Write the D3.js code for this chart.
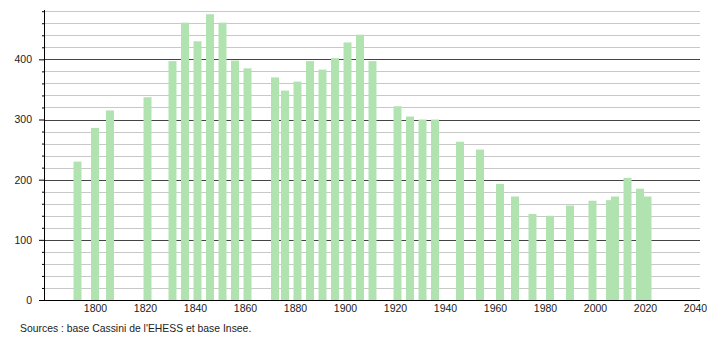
<!DOCTYPE html>
<html>
<head>
<meta charset="utf-8">
<script src="https://cdn.jsdelivr.net/npm/d3@7"></script>
<style>
  body { margin: 0; background: #fff; }
  text { font-family: "Liberation Sans", Arial, sans-serif; }
</style>
</head>
<body>
<div class="canvas"></div>
<script>
const years = [1793, 1800, 1806, 1821, 1831, 1836, 1841, 1846, 1851, 1856, 1861,
    1872, 1876, 1881, 1886, 1891, 1896, 1901, 1906, 1911,
    1921, 1926, 1931, 1936, 1946, 1954, 1962, 1968, 1975, 1982, 1990,
    1999, 2006, 2008, 2013, 2018, 2021]
const population = [230, 286, 315, 337, 397, 461, 430, 475, 461, 398, 385,
    370, 348, 363, 397, 383, 402, 428, 441, 397,
    322, 305, 300, 300, 263, 250, 193, 172, 143, 140, 157,
    165, 166, 172, 203, 185, 172]
const xTicks = [1800, 1820, 1840, 1860, 1880, 1900, 1920, 1940, 1960, 1980, 2000, 2020, 2040]
const yTicks = [0, 100, 200, 300, 400]
const source = "Sources : base Cassini de l'EHESS et base Insee."

const margin = { top: 10, right: 10, bottom: 40, left: 44 }
const width = 710, height = 340
const graphWidth = width - margin.left - margin.right
const graphHeight = height - margin.top - margin.bottom

const svg = d3.select('.canvas')
    .append('svg')
    .attr('width', width)
    .attr('height', height)

const graph = svg.append('g')
    .attr('transform', `translate(${margin.left}, ${margin.top})`)

const xScale = d3.scaleLinear().domain([1779.6, 2042]).range([0, graphWidth])
const yScale = d3.scaleLinear().domain([0, 482]).range([graphHeight, 0])

// grid: minor every 20, major every 100
const minor = d3.range(20, 481, 20).filter(v => v % 100 !== 0)
graph.selectAll('.minor')
    .data(minor)
    .enter().append('line')
    .attr('x1', 0).attr('x2', graphWidth)
    .attr('y1', d => Math.round(yScale(d)) + 0.5)
    .attr('y2', d => Math.round(yScale(d)) + 0.5)
    .attr('stroke', '#c8c8c8')

graph.selectAll('.major')
    .data(yTicks.slice(1))
    .enter().append('line')
    .attr('x1', 0).attr('x2', graphWidth)
    .attr('y1', d => Math.round(yScale(d)) + 0.5)
    .attr('y2', d => Math.round(yScale(d)) + 0.5)
    .attr('stroke', '#444')

const barWidth = 8
graph.selectAll('rect')
    .data(years)
    .enter().append('rect')
    .attr('x', d => xScale(d) - barWidth / 2)
    .attr('width', barWidth)
    .attr('y', (d, i) => yScale(population[i]))
    .attr('height', (d, i) => graphHeight - yScale(population[i]))
    .attr('fill', '#b1e3b1')

// y axis with minor ticks
const yAxisMinor = d3.axisLeft(yScale).tickValues(minor).tickSize(2).tickFormat('')
graph.append('g').call(yAxisMinor)
    .call(g => g.select('.domain').remove())

const yAxis = d3.axisLeft(yScale).tickValues(yTicks).tickSize(5).tickPadding(7)
graph.append('g')
    .call(yAxis)
    .call(g => g.select('.domain').attr('d', `M0.5,0V${graphHeight}`))
    .call(g => g.selectAll('text').attr('font-size', 10.5).attr('fill', '#222'))

const xAxis = d3.axisBottom(xScale).tickValues(xTicks).tickFormat(d3.format('d')).tickSize(0).tickPadding(5)
graph.append('g')
    .attr('transform', `translate(0, ${graphHeight})`)
    .call(xAxis)
    .call(g => g.select('.domain').attr('d', `M0,0.5H${graphWidth}`))
    .call(g => g.selectAll('text').attr('font-size', 10.5).attr('fill', '#222'))

svg.append('text')
    .attr('x', 20)
    .attr('y', 332)
    .attr('font-size', 10.4)
    .attr('fill', '#222')
    .text(source)
</script>
</body>
</html>
